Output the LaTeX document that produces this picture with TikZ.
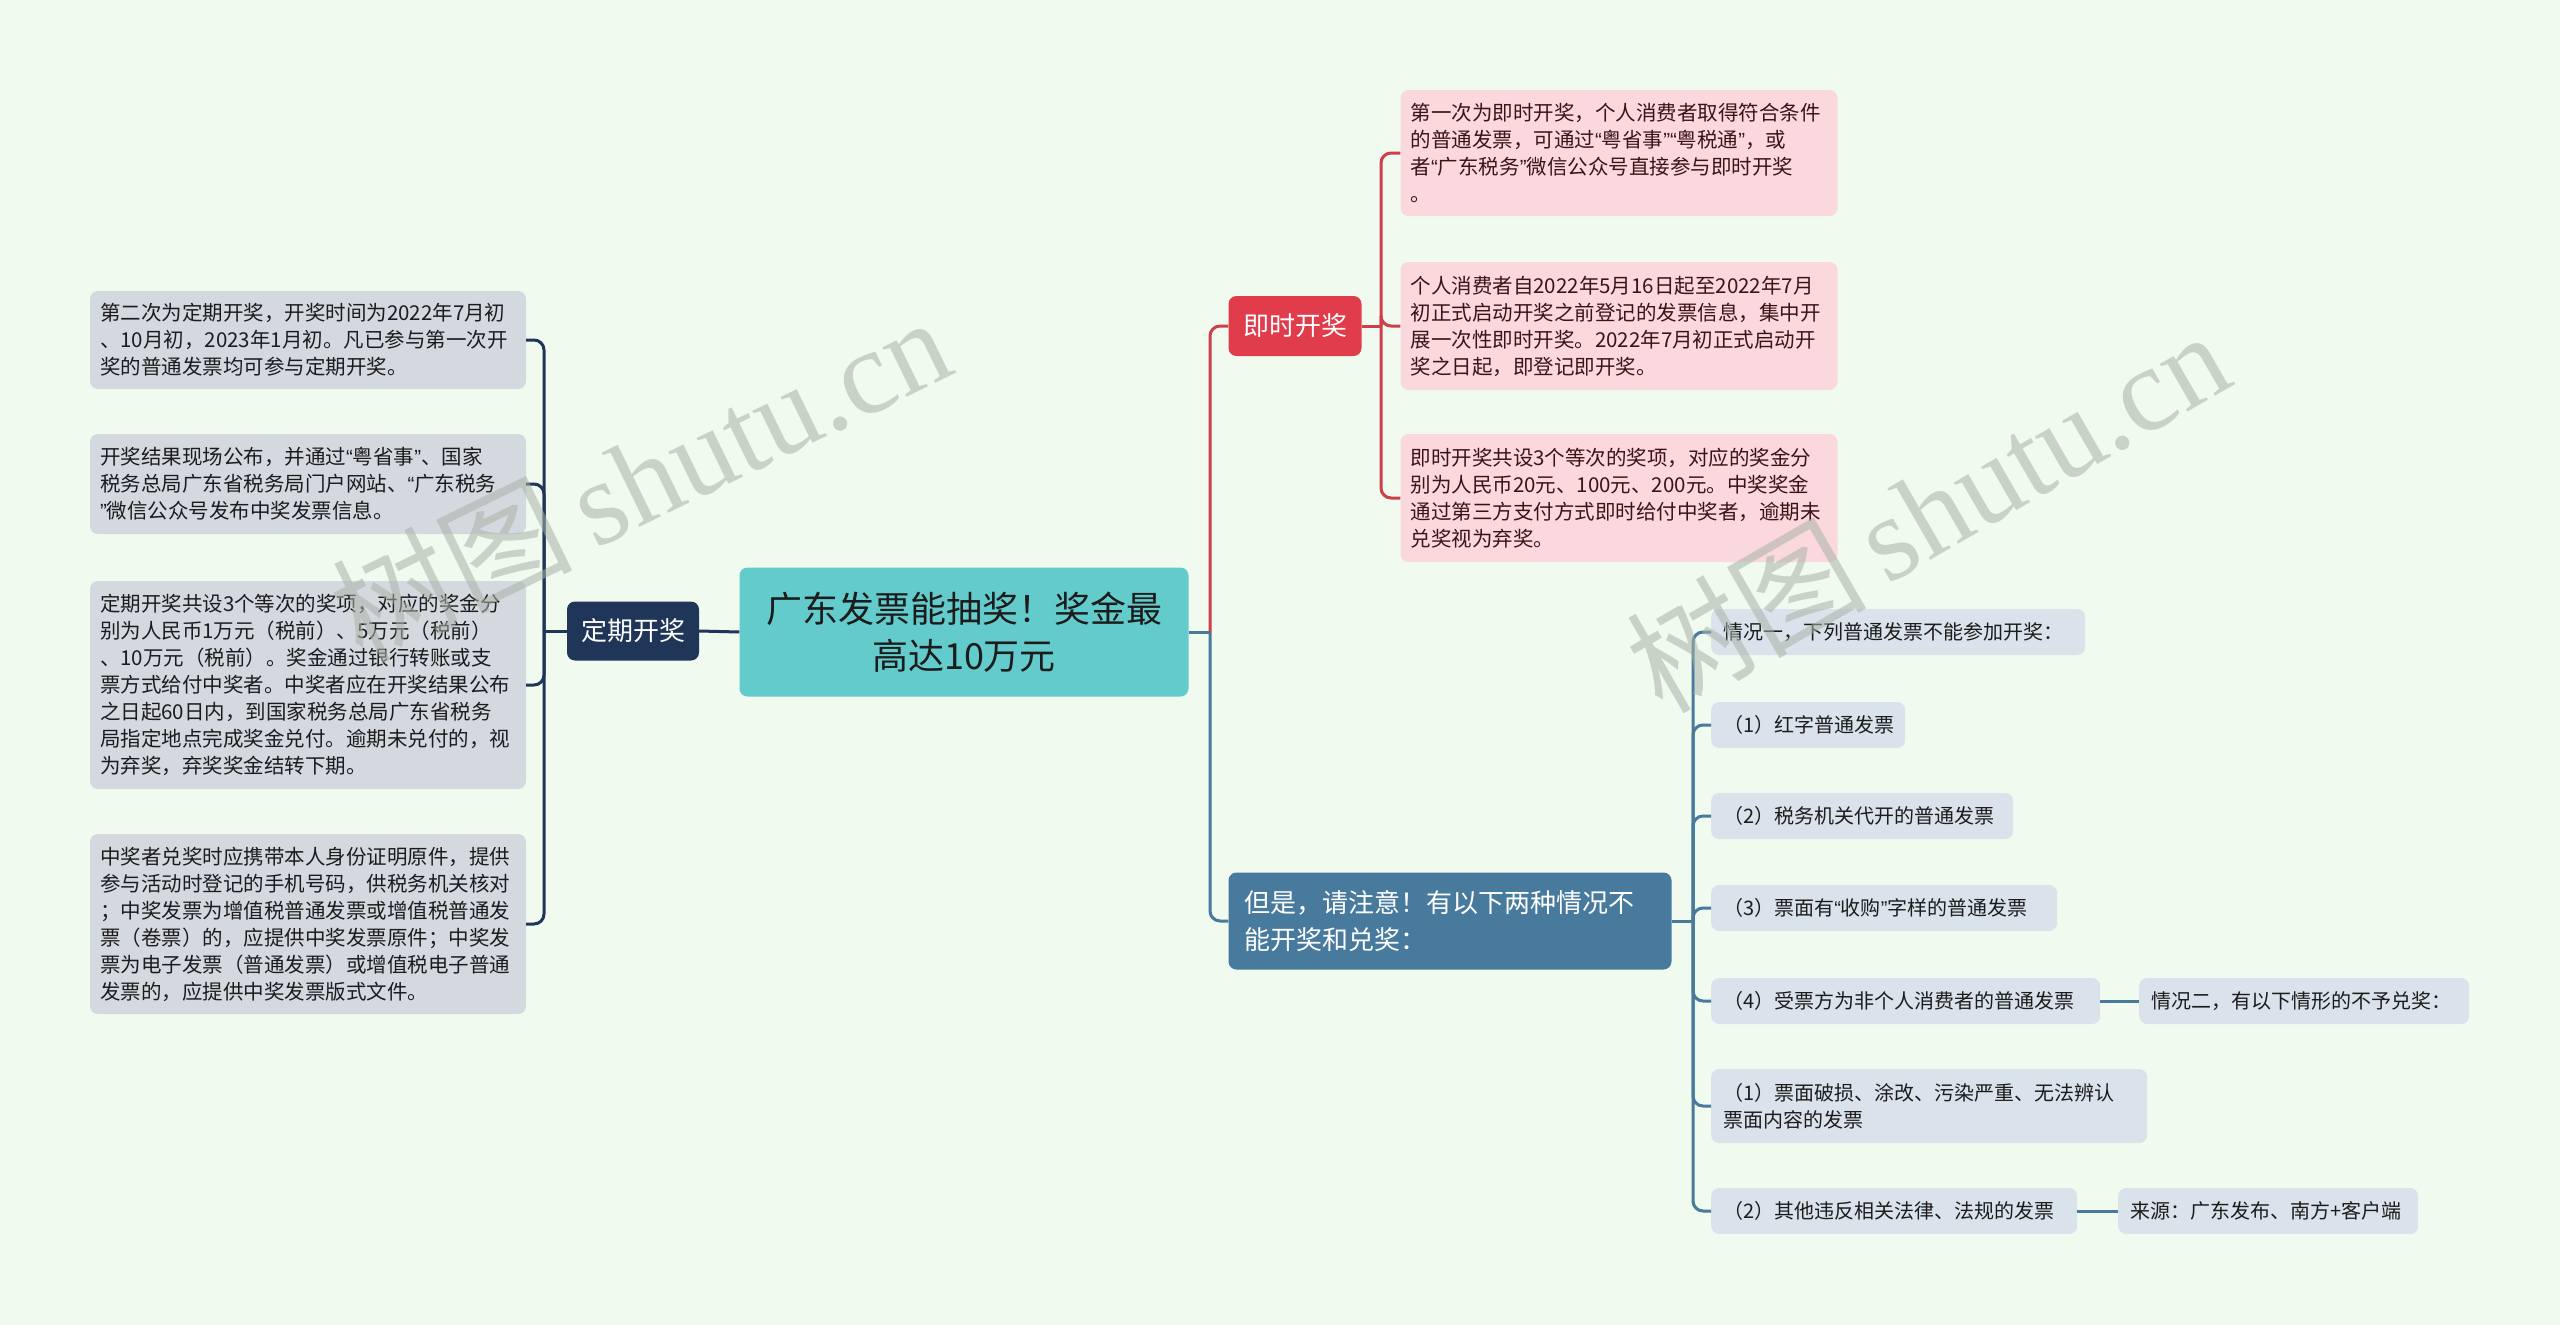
\documentclass[tikz,border=0pt]{standalone}
\usepackage{fontspec}
\setmainfont{Noto Sans CJK SC}
\newfontfamily\wmfont{Liberation Serif}
\newfontfamily\quotefont{Liberation Sans}
\newcommand{\openq}{{\quotefont “}}
\newcommand{\closeq}{{\quotefont ”}}
\definecolor{bgmint}{HTML}{F0FAEF}
\definecolor{teal}{HTML}{63CBCC}
\definecolor{navy}{HTML}{1F3658}
\definecolor{redbranch}{HTML}{E13C4B}
\definecolor{redline}{HTML}{CF3F4B}
\definecolor{steel}{HTML}{477A9C}
\definecolor{leafgray}{HTML}{D4D9E0}
\definecolor{leafpink}{HTML}{FAD8DD}
\definecolor{leafblue}{HTML}{DAE3EB}
\definecolor{inkdark}{HTML}{1C1C1C}
\definecolor{inkred}{HTML}{3D1416}
\definecolor{wmgray}{HTML}{A9B2A8}
\begin{document}
\begin{tikzpicture} [x = 1pt, y = -1pt,
  leaf/.style = {rounded corners = 8pt, inner xsep = 10pt, inner ysep = 0pt, align = left, text = inkdark, font = \fontsize{20.5}{27}\selectfont},
  grayleaf/.style = {leaf, fill = leafgray, text width = 416pt},
  pinkleaf/.style = {leaf, fill = leafpink, text = inkred, text width = 417pt},
  blueleaf/.style = {leaf, fill = leafblue, anchor = west, inner xsep = 12pt, minimum height = 46pt, text width = #1, font = \fontsize{20}{27}\selectfont},
  branch/.style = {rounded corners = 8pt, text = white, inner sep = 0pt, font = \fontsize{26}{37}\selectfont},
  navyline/.style = {navy, line width = 3pt},
  redwire/.style = {redline, line width = 3pt},
  steelline/.style = {steel, line width = 3pt},
  watermark/.style = {text = wmgray, text opacity = 0.55, font = \fontsize{120}{120}\selectfont}]
\useasboundingbox (0,0) rectangle (2560,1325);
\fill [bgmint] (0,0) rectangle (2560,1325);
% centre
\node [fill = teal, rounded corners = 8pt, minimum width = 449pt, minimum height = 129pt, align = center, text = inkdark, font = \fontsize{36}{47}\selectfont] (main) at (964,632) {广东发票能抽奖！奖金最\\高达10万元};
% left branch
\node [branch, fill = navy, minimum width = 132pt, minimum height = 59pt] (dq) at (633,631) {定期开奖};
\node [grayleaf, minimum height = 98pt] (l1) at (308,340) {第二次为定期开奖，开奖时间为2022年7月初\\、10月初，2023年1月初。凡已参与第一次开\\奖的普通发票均可参与定期开奖。};
\node [grayleaf, minimum height = 100pt] (l2) at (308,484) {开奖结果现场公布，并通过\openq 粤省事\closeq 、国家\\税务总局广东省税务局门户网站、\openq 广东税务\\\closeq 微信公众号发布中奖发票信息。};
\node [grayleaf, minimum height = 208pt] (l3) at (308,685) {定期开奖共设3个等次的奖项，对应的奖金分\\别为人民币1万元（税前）、5万元（税前）\\、10万元（税前）。奖金通过银行转账或支\\票方式给付中奖者。中奖者应在开奖结果公布\\之日起60日内，到国家税务总局广东省税务\\局指定地点完成奖金兑付。逾期未兑付的，视\\为弃奖，弃奖奖金结转下期。};
\node [grayleaf, minimum height = 180pt] (l4) at (308,924) {中奖者兑奖时应携带本人身份证明原件，提供\\参与活动时登记的手机号码，供税务机关核对\\；中奖发票为增值税普通发票或增值税普通发\\票（卷票）的，应提供中奖发票原件；中奖发\\票为电子发票（普通发票）或增值税电子普通\\发票的，应提供中奖发票版式文件。};
% right upper branch
\node [branch, fill = redbranch, minimum width = 133pt, minimum height = 60pt] (js) at (1295,326) {即时开奖};
\node [pinkleaf, minimum height = 126pt] (r1) at (1619,153) {第一次为即时开奖，个人消费者取得符合条件\\的普通发票，可通过\openq 粤省事\closeq\openq 粤税通\closeq ，或\\者\openq 广东税务\closeq 微信公众号直接参与即时开奖\\。};
\node [pinkleaf, minimum height = 128pt] (r2) at (1619,326) {个人消费者自2022年5月16日起至2022年7月\\初正式启动开奖之前登记的发票信息，集中开\\展一次性即时开奖。2022年7月初正式启动开\\奖之日起，即登记即开奖。};
\node [pinkleaf, minimum height = 128pt] (r3) at (1619,498) {即时开奖共设3个等次的奖项，对应的奖金分\\别为人民币20元、100元、200元。中奖奖金\\通过第三方支付方式即时给付中奖者，逾期未\\兑奖视为弃奖。};
% right lower branch
\node [branch, fill = steel, minimum width = 443pt, minimum height = 97pt, inner xsep = 16pt, align = left, text width = 411pt] (ds) at (1450,921) {但是，请注意！有以下两种情况不\\能开奖和兑奖：};
\node [blueleaf = 350pt] (b1) at (1711,632) {情况一，下列普通发票不能参加开奖：};
\node [blueleaf = 170pt] (b2) at (1711,725) {（1）红字普通发票};
\node [blueleaf = 278pt] (b3) at (1711,816) {（2）税务机关代开的普通发票};
\node [blueleaf = 322pt] (b4) at (1711,908) {（3）票面有\openq 收购\closeq 字样的普通发票};
\node [blueleaf = 365pt] (b5) at (1711,1001) {（4）受票方为非个人消费者的普通发票};
\node [blueleaf = 412pt, minimum height = 74pt] (b6) at (1711,1106) {（1）票面破损、涂改、污染严重、无法辨认\\票面内容的发票};
\node [blueleaf = 342pt] (b7) at (1711,1211) {（2）其他违反相关法律、法规的发票};
\node [blueleaf = 306pt] (q2) at (2139,1001) {情况二，有以下情形的不予兑奖：};
\node [blueleaf = 276pt] (src) at (2118,1211) {来源：广东发布、南方+客户端};
% connectors
\coordinate (ctrunk) at (1210,632);
\coordinate (dtrunk) at (544,631);
\coordinate (jtrunk) at (1381,326);
\coordinate (btrunk) at (1693,921);
\draw [navyline] (main.west) -- (dq.east);
\draw [navyline] (dq.west) -- (dtrunk);
\foreach \n in {l1,l2,l3,l4}
  \draw [navyline, rounded corners = 10pt] (dtrunk) |- (\n.east);
\draw [steelline] (main.east) -- (ctrunk);
\draw [redwire, rounded corners = 10pt] (ctrunk) |- (js.west);
\draw [steelline, rounded corners = 10pt] (ctrunk) |- (ds.west);
\draw [redwire] (js.east) -- (jtrunk);
\foreach \n in {r1,r2,r3}
  \draw [redwire, rounded corners = 10pt] (jtrunk) |- (\n.west);
\draw [steelline] (ds.east) -- (btrunk);
\foreach \n in {b1,b2,b3,b4,b5,b6,b7}
  \draw [steelline, rounded corners = 10pt] (btrunk) |- (\n.west);
\draw [steelline] (b5.east) -- (q2.west);
\draw [steelline] (b7.east) -- (src.west);
% watermarks
\node [watermark, rotate = 26] (wm1) at (640,477) {树图\,{\wmfont shutu.cn}};
\node [watermark, rotate = 30] (wm2) at (1927,510) {树图\,{\wmfont shutu.cn}};
\end{tikzpicture}
\end{document}
